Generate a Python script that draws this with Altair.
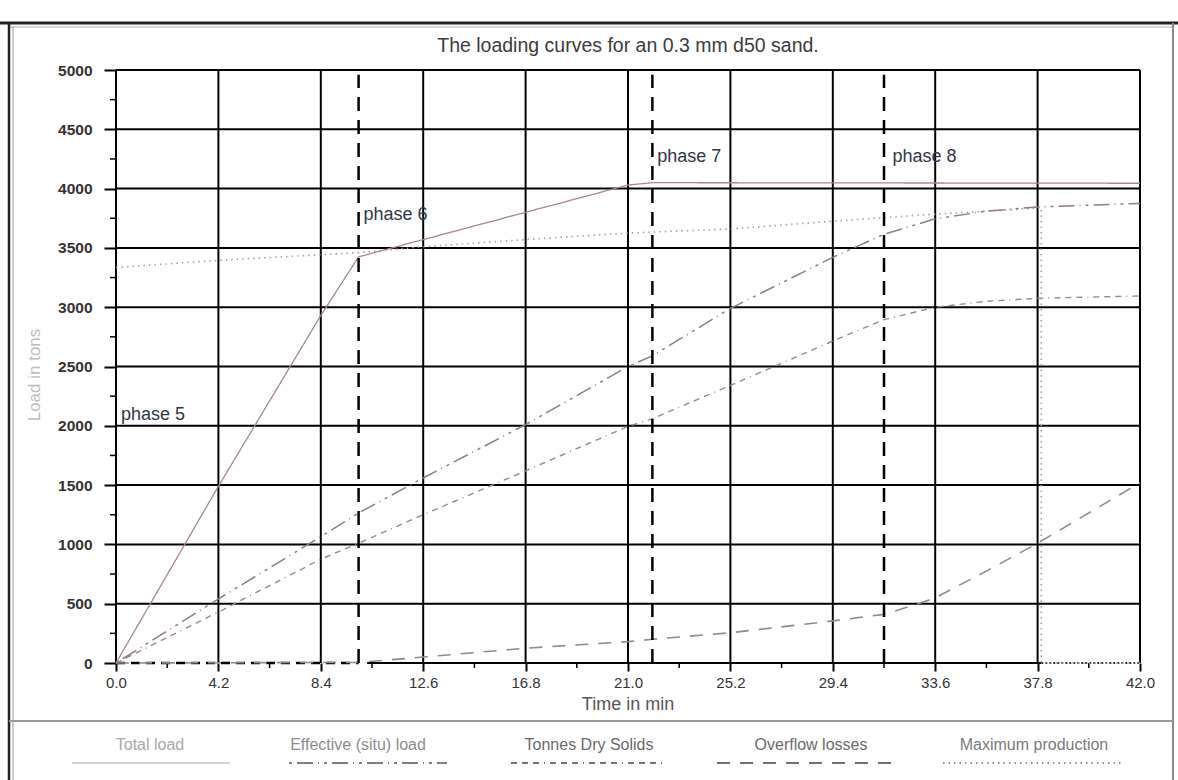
import altair as alt
import pandas as pd

# ---- data -------------------------------------------------------------
x_ticks = [0.0, 4.2, 8.4, 12.6, 16.8, 21.0, 25.2, 29.4, 33.6, 37.8, 42.0]
y_ticks = [0, 500, 1000, 1500, 2000, 2500, 3000, 3500, 4000, 4500, 5000]
x_minor = [2.1, 6.3, 10.5, 14.7, 18.9, 23.1, 27.3, 31.5, 35.7, 39.9]
y_minor = [250, 750, 1250, 1750, 2250, 2750, 3250, 3750, 4250, 4750]

time_total = [0, 4.2, 8.4, 9.95, 12.6, 16.8, 21.0, 22.0, 42.0]
load_total = [0, 1490, 2930, 3425, 3570, 3800, 4030, 4050, 4045]

time_eff = [0, 4.2, 8.4, 9.95, 12.6, 16.8, 21.0, 22.0, 25.2, 29.4, 31.5, 33.6, 35.7, 37.8, 42.0]
load_eff = [0, 540, 1065, 1265, 1560, 2010, 2500, 2590, 2990, 3420, 3615, 3745, 3810, 3845, 3875]

time_tds = [0, 4.2, 8.4, 9.95, 12.6, 16.8, 21.0, 22.0, 25.2, 29.4, 31.5, 33.6, 35.7, 37.8, 42.0]
load_tds = [0, 430, 875, 1010, 1250, 1620, 1995, 2060, 2340, 2715, 2895, 3000, 3050, 3075, 3095]

time_over = [0, 9.95, 12.6, 16.8, 21.0, 22.0, 25.2, 29.4, 31.5, 33.0, 33.6, 35.7, 37.8, 42.0]
load_over = [0, 5, 50, 125, 180, 200, 255, 355, 410, 505, 550, 775, 1010, 1520]

time_max = [0, 4.2, 9.95, 12.6, 17.5, 21.0, 25.2, 29.4, 31.5, 33.6, 35.7, 37.95, 37.95, 42.0]
load_max = [3335, 3395, 3460, 3510, 3580, 3625, 3660, 3725, 3755, 3785, 3810, 3838, 0, 0]

phase_time = [9.95, 22.0, 31.5]
phase_names = ["phase 5", "phase 6", "phase 7", "phase 8"]
phase_label_time = [0.2, 10.15, 22.2, 31.85]
phase_label_load = [2090, 3780, 4265, 4265]

series_names = ["Total load", "Effective (situ) load", "Tonnes Dry Solids",
                "Overflow losses", "Maximum production"]

# ---- layout / style -----------------------------------------------------
W, H = 1024, 593
FONT = "Liberation Sans"
xs = alt.Scale(domain=[0, 42], nice=False, zero=False)
ys = alt.Scale(domain=[0, 5000], nice=False)

line_styles = {
    "Total load": dict(color="#a88888", dash=[1, 0], width=1.3),
    "Effective (situ) load": dict(color="#927c7c", dash=[3, 5, 16, 5, 1, 5], width=1.5),
    "Tonnes Dry Solids": dict(color="#9a8888", dash=[6, 5, 6, 5, 6, 5, 1, 5], width=1.4),
    "Overflow losses": dict(color="#978686", dash=[13, 10], width=1.6),
    "Maximum production": dict(color="#b39a9a", dash=[1.5, 4], width=1.6),
}


def curve(name, t, v):
    st = line_styles[name]
    df = pd.DataFrame({"t": t, "v": v, "i": range(len(t))})
    return alt.Chart(df).mark_line(
        color=st["color"], strokeDash=st["dash"], strokeWidth=st["width"], clip=False
    ).encode(
        x=alt.X("t:Q", scale=xs),
        y=alt.Y("v:Q", scale=ys),
        order="i:Q",
    )


# axes carry labels and outward ticks only; the grid is drawn as rules
base_axes = alt.Chart(pd.DataFrame({"t": [0.0], "v": [0]})).mark_point(opacity=0).encode(
    x=alt.X("t:Q", scale=xs, axis=alt.Axis(
        values=x_ticks, format=".1f", grid=False, domain=False, labelFlush=False,
        tickSize=8, tickWidth=2, tickColor="black",
        labelFont=FONT, labelFontSize=15, labelColor="#333", labelPadding=4,
        title=None)),
    y=alt.Y("v:Q", scale=ys, axis=alt.Axis(
        values=y_ticks, format="d", grid=False, domain=False, labelFlush=False,
        tickSize=12, tickWidth=2, tickColor="black",
        labelFont=FONT, labelFontSize=15.5, labelFontWeight="bold",
        labelColor="#333", labelPadding=12, title=None)),
)

vgrid = alt.Chart(pd.DataFrame({"t": x_ticks})).mark_rule(
    color="black", strokeWidth=2).encode(x=alt.X("t:Q", scale=xs))
hgrid = alt.Chart(pd.DataFrame({"v": y_ticks[1:]})).mark_rule(
    color="black", strokeWidth=2).encode(y=alt.Y("v:Q", scale=ys))

xminor = alt.Chart(pd.DataFrame({"t": x_minor})).mark_rule(
    color="black", strokeWidth=1.5).encode(
    x=alt.X("t:Q", scale=xs), y=alt.value(H), y2=alt.value(H + 5))
yminor = alt.Chart(pd.DataFrame({"v": y_minor})).mark_rule(
    color="black", strokeWidth=1.5).encode(
    y=alt.Y("v:Q", scale=ys), x=alt.value(-6), x2=alt.value(0))

# baseline along zero: dashed through phase 5, solid after
base_df = pd.DataFrame({"a": [0.0, 10.3, 37.95], "b": [9.95, 37.95, 42.0],
                        "kind": ["dash", "solid", "dot"]})
baseline_dash = alt.Chart(base_df[base_df.kind == "dash"]).mark_rule(
    color="black", strokeWidth=2.5, strokeDash=[9, 6]).encode(
    x=alt.X("a:Q", scale=xs), x2="b:Q", y=alt.datum(0, scale=ys))
baseline_solid = alt.Chart(base_df[base_df.kind == "solid"]).mark_rule(
    color="black", strokeWidth=2).encode(
    x=alt.X("a:Q", scale=xs), x2="b:Q", y=alt.datum(0, scale=ys))
baseline_dot = alt.Chart(base_df[base_df.kind == "dot"]).mark_rule(
    color="#333", strokeWidth=2, strokeDash=[2, 2]).encode(
    x=alt.X("a:Q", scale=xs), x2="b:Q", y=alt.datum(0, scale=ys))

phase_df = pd.DataFrame({"t": phase_time, "lo": [0] * 3, "hi": [4960] * 3})
phase_lines = alt.Chart(phase_df).mark_rule(
    color="black", strokeWidth=2.5, strokeDash=[14, 9]).encode(
    x=alt.X("t:Q", scale=xs), y=alt.Y("lo:Q", scale=ys), y2="hi:Q")

phase_text = alt.Chart(pd.DataFrame({
    "name": phase_names, "t": phase_label_time, "v": phase_label_load})).mark_text(
    align="left", baseline="middle", font=FONT, fontSize=18, color="#2f3748"
).encode(x=alt.X("t:Q", scale=xs), y=alt.Y("v:Q", scale=ys), text="name:N")


def label(text, x, y, size, color, angle=0, weight="normal"):
    return alt.Chart(pd.DataFrame({"s": [text]})).mark_text(
        align="center", baseline="middle", font=FONT, fontSize=size,
        color=color, angle=angle, fontWeight=weight
    ).encode(x=alt.value(x), y=alt.value(y), text="s:N")


def hline(x1, x2, y, color, width, dash=None):
    kw = dict(color=color, strokeWidth=width)
    if dash:
        kw["strokeDash"] = dash
    return alt.Chart(pd.DataFrame({"k": [0]})).mark_rule(**kw).encode(
        x=alt.value(x1), x2=alt.value(x2), y=alt.value(y))


def vline(x, y1, y2, color, width):
    return alt.Chart(pd.DataFrame({"k": [0]})).mark_rule(
        color=color, strokeWidth=width).encode(
        x=alt.value(x), y=alt.value(y1), y2=alt.value(y2))


title = label("The loading curves for an 0.3 mm d50 sand.", 512, -24, 19.5, "#3c3c3c")
xtitle = label("Time in min", 512, 635, 18, "#555")
ytitle = label("Load in tons", -81, 305, 17, "#bdbdbd", angle=270)

# page frame
frame = [
    hline(-116, 1062, -47, "#222", 3),
    hline(-107, 1058, -43, "#aaa", 1),
    vline(-107, -47, 710, "#222", 2.5),
    vline(-103, -43, 710, "#999", 1),
    vline(1057, -47, 710, "#888", 2),
    hline(-107, 1057, 651, "#999", 2),
]

# legend row underneath
legend_text_cx = [34, 242, 473, 695, 918]
legend_line_span = [(-44, 114), (173, 331), (395, 549), (601, 778), (827, 1007)]
legend_text_color = ["#a8a8a8", "#8c8c8c", "#6a6a6a", "#6a6a6a", "#7a7a7a"]
legend_line_color = ["#b0a4a4", "#8a7a7a", "#807272", "#7a6e6e", "#9a8a8a"]
legend_layers = []
for name, cx, (a, b), tc, lc in zip(series_names, legend_text_cx, legend_line_span,
                                    legend_text_color, legend_line_color):
    st = line_styles[name]
    legend_layers.append(label(name, cx, 675, 16, tc))
    legend_layers.append(hline(a, b, 693, lc, 2 if name != "Total load" else 1.2,
                               st["dash"] if name != "Total load" else None))

curves = [
    curve("Maximum production", time_max, load_max),
    curve("Overflow losses", time_over, load_over),
    curve("Tonnes Dry Solids", time_tds, load_tds),
    curve("Effective (situ) load", time_eff, load_eff),
    curve("Total load", time_total, load_total),
]

chart = alt.layer(
    base_axes, vgrid, hgrid, xminor, yminor,
    baseline_dash, baseline_solid, baseline_dot,
    *curves, phase_lines, phase_text,
    title, xtitle, ytitle, *frame, *legend_layers,
).properties(
    width=W, height=H,
    padding={"left": 116, "top": 70, "right": 38, "bottom": 117},
    autosize=alt.AutoSizeParams(type="none"),
    background="white",
).configure_view(stroke=None)

chart.save("out.html", embed_options={"renderer": "svg", "actions": False})
